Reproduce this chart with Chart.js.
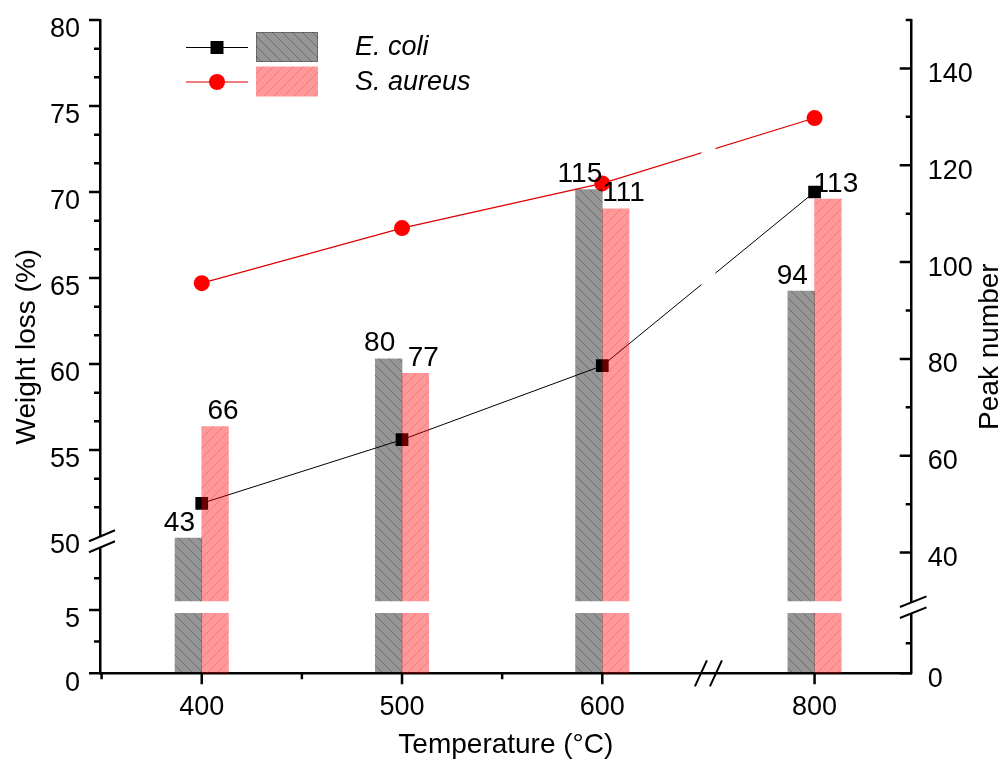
<!DOCTYPE html>
<html>
<head>
<meta charset="utf-8">
<title>Weight loss and peak number vs temperature</title>
<script src="https://cdn.jsdelivr.net/npm/chart.js@4.4.1/dist/chart.umd.min.js"></script>
<style>
  html, body { margin: 0; padding: 0; background: #fff; }
  #wrap { width: 1002px; height: 760px; }
</style>
</head>
<body>
<div id="wrap"><canvas id="chart" width="1002" height="760"></canvas></div>
<script>
// data
const temperatures = [400, 500, 600, 800];
const tempLabels = ['400', '500', '600', '800'];
const weightLossEcoli = [51.9, 55.6, 59.9, 70.0];
const weightLossSaureus = [64.7, 67.9, 70.5, 74.3];
const peakEcoli = [43, 80, 115, 94];
const peakSaureus = [66, 77, 111, 113];

const leftTicks = [0, 5, 50, 55, 60, 65, 70, 75, 80];
const leftMinor = [2.5, 7.5, 51.67, 53.33, 56.67, 58.33, 61.67, 63.33, 66.67, 68.33, 71.67, 73.33, 76.67, 78.33];
const rightTicks = [0, 40, 60, 80, 100, 120, 140];
const rightMinor = [10, 50, 70, 90, 110, 130, 150];
const xMinor = [350, 450, 550];

// broken axes: [from, to, virtualStart, virtualEnd]
const leftSegs = [[0, 10, 0, 126.8], [50, 80, 137.3, 653.3]];
const rightSegs = [[0, 20, 0, 60], [30, 150, 72.3, 653.3]];
const xBreak = [650, 750, 6];   // from, to, gap left on the axis

function segMap(segs, v) {
  const s = v <= segs[0][1] ? segs[0] : segs[1];
  return s[2] + (v - s[0]) * (s[3] - s[2]) / (s[1] - s[0]);
}
const lv = v => segMap(leftSegs, v);
const rv = v => segMap(rightSegs, v);
const xv = t => t <= xBreak[0] ? t : t - (xBreak[1] - xBreak[0]) + xBreak[2];

const FONT = '"Liberation Sans", Arial, sans-serif';
const canvas = document.getElementById('chart');
const mainCtx = canvas.getContext('2d');

function hatch(fill, stroke, dir) {
  const s = 10;
  const c = document.createElement('canvas');
  c.width = s; c.height = s;
  const g = c.getContext('2d');
  g.fillStyle = fill;
  g.fillRect(0, 0, s, s);
  g.strokeStyle = stroke;
  g.lineWidth = 1;
  g.beginPath();
  if (dir > 0) {
    g.moveTo(0, s); g.lineTo(s, 0);
    g.moveTo(-1, 1); g.lineTo(1, -1);
    g.moveTo(s - 1, s + 1); g.lineTo(s + 1, s - 1);
  } else {
    g.moveTo(0, 0); g.lineTo(s, s);
    g.moveTo(-1, s - 1); g.lineTo(1, s + 1);
    g.moveTo(s - 1, -1); g.lineTo(s + 1, 1);
  }
  g.stroke();
  return mainCtx.createPattern(c, 'repeat');
}

const grayFill = hatch('rgba(0,0,0,0.41)', 'rgba(0,0,0,0.28)', -1);
const redFill = hatch('rgba(255,0,0,0.4)', 'rgba(190,0,0,0.2)', 1);

function barPieces(vals, stack, fill, name) {
  const base = { type: 'bar', stack: stack, yAxisID: 'y2', backgroundColor: fill,
    borderWidth: 0, barThickness: 26.7, order: 0 };
  return [
    Object.assign({}, base, { label: name + ' low', data: temperatures.map(t => ({ x: xv(t), y: [0, rv(20)] })) }),
    Object.assign({}, base, { label: name, data: temperatures.map((t, i) => ({ x: xv(t), y: [rv(30), rv(vals[i])] })) })
  ];
}

const datasets = [
  ...barPieces(peakEcoli, 'ecoli', grayFill, 'E. coli'),
  ...barPieces(peakSaureus, 'saureus', redFill, 'S. aureus'),
  {
    type: 'line', label: 'E. coli weight loss', yAxisID: 'y', order: 1,
    data: temperatures.map((t, i) => ({ x: xv(t), y: lv(weightLossEcoli[i]) })),
    borderColor: '#000', borderWidth: 1, backgroundColor: '#000',
    pointStyle: 'rect', pointRadius: 9, pointBorderWidth: 0
  },
  {
    type: 'line', label: 'S. aureus weight loss', yAxisID: 'y', order: 1,
    data: temperatures.map((t, i) => ({ x: xv(t), y: lv(weightLossSaureus[i]) })),
    borderColor: '#e00000', borderWidth: 1.2, backgroundColor: '#ff0000',
    pointStyle: 'circle', pointRadius: 8, pointBorderWidth: 0
  }
];

function line(ctx, x1, y1, x2, y2) {
  ctx.moveTo(x1, y1);
  ctx.lineTo(x2, y2);
}

function breakMark(ctx, cx, cy, dx, dy, sep) {
  // two parallel slashes with the axis blanked between them
  ctx.save();
  ctx.fillStyle = '#fff';
  ctx.beginPath();
  ctx.moveTo(cx - dx, cy - sep / 2 + dy);
  ctx.lineTo(cx + dx, cy - sep / 2 - dy);
  ctx.lineTo(cx + dx, cy + sep / 2 - dy);
  ctx.lineTo(cx - dx, cy + sep / 2 + dy);
  ctx.closePath();
  ctx.fill();
  ctx.strokeStyle = '#000';
  ctx.lineWidth = 2;
  ctx.beginPath();
  line(ctx, cx - dx, cy - sep / 2 + dy, cx + dx, cy - sep / 2 - dy);
  line(ctx, cx - dx, cy + sep / 2 + dy, cx + dx, cy + sep / 2 - dy);
  ctx.stroke();
  ctx.restore();
}

const decor = {
  id: 'decor',
  afterDatasetsDraw(chart) {
    const ctx = chart.ctx;
    const area = chart.chartArea;
    const xs = chart.scales.x;
    // lines are interrupted where the temperature axis is broken
    const bx1 = xs.getPixelForValue(xBreak[0]) - 1;
    const bx2 = xs.getPixelForValue(xBreak[0] + xBreak[2]) + 1;
    ctx.save();
    ctx.fillStyle = '#fff';
    ctx.fillRect(bx1, area.top, bx2 - bx1, area.bottom - area.top - 2);

    // value labels above the bars
    ctx.fillStyle = '#000';
    ctx.font = '28px ' + FONT;
    ctx.textAlign = 'center';
    ctx.textBaseline = 'alphabetic';
    const groups = [[1, peakEcoli, -9], [3, peakSaureus, 8]];
    groups.forEach(([di, vals, off]) => {
      chart.getDatasetMeta(di).data.forEach((bar, i) => {
        ctx.fillText(String(vals[i]), bar.x + off, bar.y - 7.5);
      });
    });
    ctx.restore();
  },
  afterDraw(chart) {
    const ctx = chart.ctx;
    const area = chart.chartArea;
    const xs = chart.scales.x, yl = chart.scales.y, yr = chart.scales.y2;
    ctx.save();
    ctx.strokeStyle = '#000';
    ctx.lineWidth = 2.5;
    ctx.beginPath();
    leftTicks.filter(v => v !== leftSegs[1][0]).forEach(v => {
      const y = yl.getPixelForValue(lv(v));
      line(ctx, area.left - 11, y, area.left, y);
    });
    leftMinor.forEach(v => {
      const y = yl.getPixelForValue(lv(v));
      line(ctx, area.left - 6, y, area.left, y);
    });
    rightTicks.forEach(v => {
      const y = yr.getPixelForValue(rv(v));
      line(ctx, area.right - 12, y, area.right, y);
    });
    rightMinor.forEach(v => {
      const y = yr.getPixelForValue(rv(v));
      line(ctx, area.right - 6, y, area.right, y);
    });
    temperatures.forEach(t => {
      const x = xs.getPixelForValue(xv(t));
      line(ctx, x, area.bottom, x, area.bottom + 11);
    });
    xMinor.forEach(t => {
      const x = xs.getPixelForValue(xv(t));
      line(ctx, x, area.bottom, x, area.bottom + 6);
    });
    ctx.stroke();

    // axis breaks
    const ly = yl.getPixelForValue((lv(leftSegs[0][1]) + lv(leftSegs[1][0])) / 2);
    breakMark(ctx, area.left + 2, ly, 13, 5.5, 11);
    const ry = yr.getPixelForValue((rv(rightSegs[0][1]) + rv(rightSegs[1][0])) / 2);
    breakMark(ctx, area.right + 1.5, ry, 13.3, 5.3, 11);
    const bx = (xs.getPixelForValue(xBreak[0]) + xs.getPixelForValue(xBreak[0] + xBreak[2])) / 2;
    ctx.lineWidth = 2;
    ctx.beginPath();
    line(ctx, bx - 7.5 - 6, area.bottom + 13, bx - 7.5 + 6, area.bottom - 13);
    line(ctx, bx + 7.5 - 6, area.bottom + 13, bx + 7.5 + 6, area.bottom - 13);
    ctx.stroke();

    // right axis title, reading bottom to top
    ctx.fillStyle = '#000';
    ctx.font = '28px ' + FONT;
    ctx.textAlign = 'center';
    ctx.textBaseline = 'middle';
    ctx.save();
    ctx.translate(990, (area.top + area.bottom) / 2);
    ctx.rotate(-Math.PI / 2);
    ctx.fillText('Peak number', 0, 0);
    ctx.restore();

    // legend
    const rows = [
      { y: 47.5, color: '#000', fill: grayFill, rect: true, text: 'E. coli' },
      { y: 82, color: '#e00000', fill: redFill, rect: false, text: 'S. aureus' }
    ];
    rows.forEach(r => {
      ctx.strokeStyle = r.color;
      ctx.lineWidth = 1.2;
      ctx.beginPath();
      line(ctx, 186, r.y, 248, r.y);
      ctx.stroke();
      ctx.fillStyle = r.rect ? '#000' : '#ff0000';
      ctx.beginPath();
      if (r.rect) ctx.rect(210.5, r.y - 6.5, 13, 13);
      else ctx.arc(217, r.y, 8, 0, Math.PI * 2);
      ctx.fill();
      ctx.fillStyle = r.fill;
      ctx.fillRect(256, r.y - 15.5, 62, 30);
      if (r.rect) {
        ctx.strokeStyle = 'rgba(0,0,0,0.3)';
        ctx.lineWidth = 1;
        ctx.strokeRect(256.5, r.y - 15, 61, 29);
      }
      ctx.fillStyle = '#000';
      ctx.font = 'italic 27px ' + FONT;
      ctx.textAlign = 'left';
      ctx.textBaseline = 'middle';
      ctx.fillText(r.text, 355, r.y);
    });
    ctx.restore();
  }
};

const tickFont = { family: FONT, size: 27 };
const axisBorder = { display: true, color: '#000', width: 2.5 };

new Chart(canvas, {
  type: 'bar',
  data: { datasets: datasets },
  options: {
    responsive: false,
    animation: false,
    devicePixelRatio: 1,
    events: [],
    layout: { padding: { top: 20, left: 0, right: 0, bottom: 0 } },
    plugins: { legend: { display: false }, tooltip: { enabled: false } },
    scales: {
      x: {
        type: 'linear', position: 'bottom', min: 349.2, max: 754.5, offset: false,
        grid: { display: false }, border: axisBorder,
        afterBuildTicks: s => { s.ticks = temperatures.map(t => ({ value: xv(t) })); },
        afterFit: s => { s.height = 86.7; s.paddingLeft = 0; s.paddingRight = 0; },
        ticks: { autoSkip: false, maxRotation: 0, padding: 10, font: tickFont, color: '#000',
          callback: (v, i) => tempLabels[i] },
        title: { display: true, text: 'Temperature (°C)', color: '#000',
          font: { family: FONT, size: 28, lineHeight: 1 }, padding: { top: 0, bottom: 1 } }
      },
      y: {
        type: 'linear', position: 'left', min: 0, max: 653.3,
        grid: { display: false }, border: axisBorder,
        afterBuildTicks: s => { s.ticks = leftTicks.map(v => ({ value: lv(v) })); },
        afterFit: s => { s.width = 100; s.paddingTop = 0; s.paddingBottom = 0; },
        ticks: { autoSkip: false, padding: 12, labelOffset: 10, font: tickFont, color: '#000',
          callback: (v, i) => String(leftTicks[i]) },
        title: { display: true, text: 'Weight loss (%)', color: '#000',
          font: { family: FONT, size: 28 }, padding: { top: 10, bottom: 0 } }
      },
      y2: {
        type: 'linear', position: 'right', min: 0, max: 653.3, stacked: false,
        grid: { display: false }, border: axisBorder,
        afterBuildTicks: s => { s.ticks = rightTicks.map(v => ({ value: rv(v) })); },
        afterFit: s => { s.width = 90.3; s.paddingTop = 0; s.paddingBottom = 0; },
        ticks: { autoSkip: false, padding: 8, labelOffset: 6, font: tickFont, color: '#000',
          callback: (v, i) => String(rightTicks[i]) }
      }
    }
  },
  plugins: [decor]
});
</script>
</body>
</html>
